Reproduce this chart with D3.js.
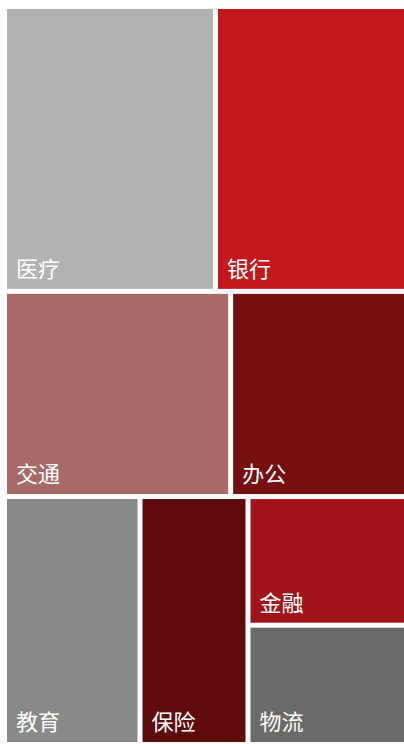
<!DOCTYPE html>
<html>
<head>
<meta charset="utf-8">
<script src="https://cdn.jsdelivr.net/npm/d3@7"></script>
<style>
  body { margin: 0; background: #fff; }
  svg { display: block; }
</style>
</head>
<body>
<svg id="chart" width="404" height="744"></svg>
<script>
const categories = ["医疗", "银行", "交通", "办公", "教育", "保险", "金融", "物流"];
const values = [202, 184, 156, 122, 113, 90, 69, 64];
const colors = ["#b2b2b2", "#c3181b", "#a76a68", "#760f10", "#878a88", "#5f0b0c", "#a11318", "#6a6a68"];
// how the blocks are grouped: rows, then columns inside a row
const rows = [["医疗", "银行"], ["交通", "办公"], ["教育", "保险", ["金融", "物流"]]];

const build = (item) =>
  Array.isArray(item)
    ? { children: item.map(build) }
    : { name: item, value: values[categories.indexOf(item)] };

const root = d3.hierarchy({ children: rows.map(build) }).sum((d) => d.value || 0);

// slice on even depths, dice on odd depths
const tile = (node, x0, y0, x1, y1) =>
  (node.depth & 1 ? d3.treemapDice : d3.treemapSlice)(node, x0, y0, x1, y1);

d3.treemap().tile(tile).size([398, 733]).paddingInner(5)(root);

const color = d3.scaleOrdinal().domain(categories).range(colors);

const G = d3.select("#chart").append("g").attr("transform", "translate(7,9)");

const cell = G.selectAll("g")
  .data(root.leaves())
  .join("g")
  .attr("transform", (d) => `translate(${d.x0},${d.y0})`);

cell.append("rect")
  .attr("width", (d) => d.x1 - d.x0)
  .attr("height", (d) => d.y1 - d.y0)
  .style("fill", (d) => color(d.data.name));

cell.append("text")
  .text((d) => d.data.name)
  .attr("x", 9)
  .attr("y", (d) => d.y1 - d.y0 - 12)
  .style("fill", "#fff")
  .style("font-family", "'Noto Sans CJK SC', sans-serif")
  .style("font-size", "22px");
</script>
</body>
</html>
